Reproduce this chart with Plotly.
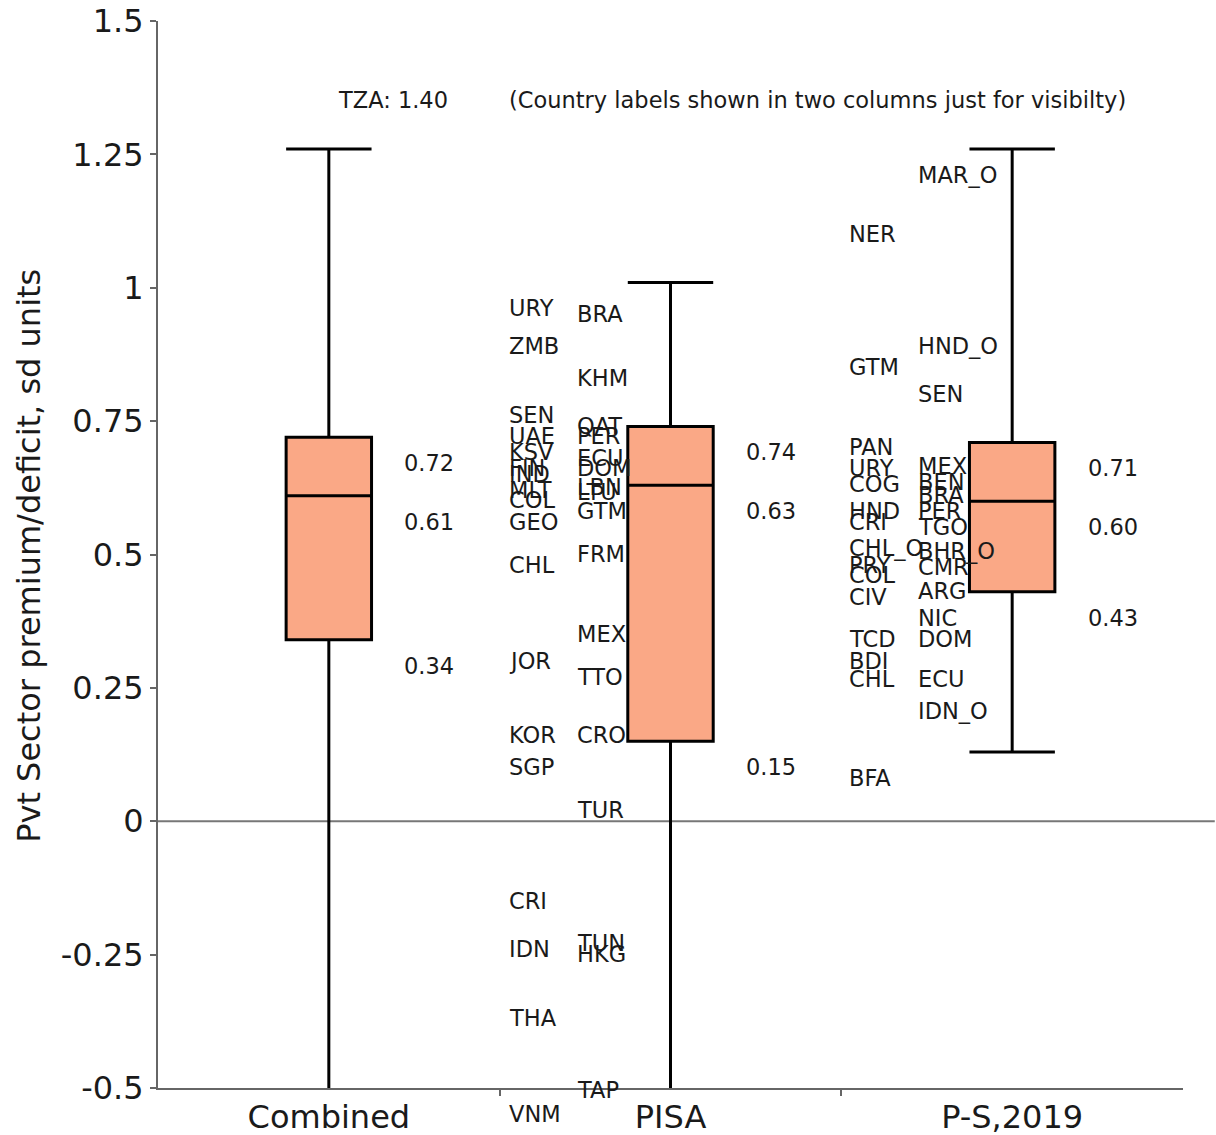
import plotly.graph_objects as go

# ---- box summary statistics (sd units) ----
categories = ["Combined", "PISA", "P-S,2019"]
q1_vals = [0.34, 0.15, 0.43]
median_vals = [0.61, 0.63, 0.60]
q3_vals = [0.72, 0.74, 0.71]
upper_fence = [1.26, 1.01, 1.26]
lower_fence = [-0.58, -0.58, 0.13]

# ---- country estimates, split into two label columns per study ----
pisa_left_names = ["URY", "ZMB", "SEN", "UAE", "KSV", "FIN", "IND", "MLT", "COL", "GEO",
                   "CHL", "JOR", "KOR", "SGP", "CRI", "IDN", "THA", "VNM"]
pisa_left_vals = [1.01, 0.94, 0.81, 0.77, 0.74, 0.71, 0.70, 0.67, 0.65, 0.61,
                  0.53, 0.35, 0.21, 0.15, -0.10, -0.19, -0.32, -0.50]

pisa_right_names = ["BRA", "KHM", "QAT", "PER", "ECU", "DOM", "LBN", "LTU", "GTM", "FRM",
                    "MEX", "TTO", "CRO", "TUR", "TUN", "HKG", "TAP"]
pisa_right_vals = [1.00, 0.88, 0.79, 0.77, 0.73, 0.71, 0.675, 0.665, 0.63, 0.55,
                   0.40, 0.32, 0.21, 0.07, -0.18, -0.20, -0.455]

ps_left_names = ["NER", "GTM", "PAN", "URY", "COG", "HND", "CRI", "CHL_O", "PRY", "COL",
                 "CIV", "TCD", "BDI", "CHL", "BFA"]
ps_left_vals = [1.15, 0.90, 0.75, 0.71, 0.68, 0.63, 0.61, 0.56, 0.53, 0.51,
                0.47, 0.39, 0.35, 0.315, 0.13]

ps_right_names = ["MAR_O", "HND_O", "SEN", "MEX", "BEN", "BRA", "PER", "TGO", "BHR_O",
                  "CMR", "ARG", "NIC", "DOM", "ECU", "IDN_O"]
ps_right_vals = [1.26, 0.94, 0.85, 0.715, 0.685, 0.66, 0.63, 0.60, 0.555,
                 0.525, 0.48, 0.43, 0.39, 0.315, 0.255]

outlier_label = "TZA: 1.40"
outlier_val = 1.40
note_text = "(Country labels shown in two columns just for visibilty)"

y_tickvals = [-0.5, -0.25, 0, 0.25, 0.5, 0.75, 1, 1.25, 1.5]
y_ticktext = ["-0.5", "-0.25", "0", "0.25", "0.5", "0.75", "1", "1.25", "1.5"]

# ---- styling ----
BOX_FILL = "#FAA886"
FAMILY = "DejaVu Sans, Verdana, sans-serif"
LABEL_FONT = dict(family=FAMILY, size=22.5, color="#1a1a1a")
LABEL_DROP = -26  # labels sit just under their value

fig = go.Figure()

for i, cat in enumerate(categories):
    fig.add_trace(go.Box(
        x=[i],
        q1=[q1_vals[i]], median=[median_vals[i]], q3=[q3_vals[i]],
        lowerfence=[lower_fence[i]], upperfence=[upper_fence[i]],
        width=0.25, whiskerwidth=1,
        fillcolor=BOX_FILL,
        line=dict(color="black", width=3),
        boxpoints=False, hoverinfo="skip", showlegend=False,
        name=cat,
    ))

annotations = []


def add_label(x, y, text, font=LABEL_FONT):
    annotations.append(dict(
        x=x, y=y, xref="x", yref="y", text=text, showarrow=False,
        xanchor="left", yanchor="middle", yshift=LABEL_DROP, font=font,
    ))


# box statistic labels to the right of each box
stat_x = [0.215, 1.215, 2.215]
for i in range(len(categories)):
    for v in (q3_vals[i], median_vals[i], q1_vals[i]):
        add_label(stat_x[i], v, f"{v:.2f}")

# country label columns
columns = [
    (0.52, pisa_left_names, pisa_left_vals),
    (0.72, pisa_right_names, pisa_right_vals),
    (1.518, ps_left_names, ps_left_vals),
    (1.718, ps_right_names, ps_right_vals),
]
for xpos, names, vals in columns:
    for n, v in zip(names, vals):
        add_label(xpos, v, n)

add_label(0.02, outlier_val, outlier_label)
add_label(0.52, outlier_val, note_text)

# rotated y axis title
annotations.append(dict(
    x=-0.126, y=0.4986, xref="paper", yref="paper",
    text="Pvt Sector premium/deficit, sd units", textangle=-90,
    showarrow=False, xanchor="center", yanchor="middle",
    font=dict(family=FAMILY, size=32, color="#1a1a1a"),
))

fig.update_layout(
    width=1216, height=1135,
    margin=dict(l=158, r=33, t=21, b=47, autoexpand=False),
    paper_bgcolor="white", plot_bgcolor="white",
    annotations=annotations,
    shapes=[dict(
        type="line", xref="paper", yref="y", x0=0, x1=1.031, y0=0, y1=0,
        line=dict(color="#777777", width=2), layer="below",
    )],
    xaxis=dict(
        range=[-0.5, 2.5], tickmode="array", tickvals=[0, 1, 2], ticktext=categories,
        ticks="", showgrid=False, zeroline=False, automargin=False,
        showline=True, linecolor="#666666", linewidth=2,
        tickfont=dict(family=FAMILY, size=32, color="#1a1a1a"),
        ticklabelstandoff=0,
        minor=dict(tickmode="array", tickvals=[0.5, 1.5], ticks="outside",
                   ticklen=6, tickcolor="#666666", tickwidth=2),
    ),
    yaxis=dict(
        range=[-0.5, 1.5], tickmode="array", tickvals=y_tickvals, ticktext=y_ticktext,
        ticks="outside", ticklen=6, tickwidth=2, tickcolor="#666666",
        showgrid=False, zeroline=False, automargin=False,
        showline=True, linecolor="#666666", linewidth=2,
        tickfont=dict(family=FAMILY, size=32, color="#1a1a1a"),
    ),
)

fig.write_html("out.html")
